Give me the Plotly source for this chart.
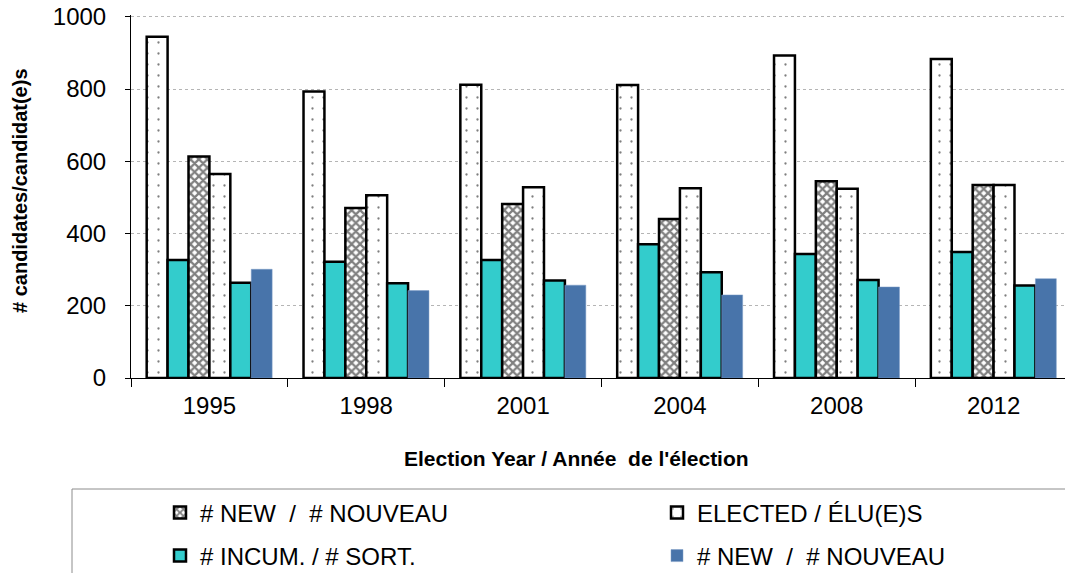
import plotly.graph_objects as go

years = ["1995", "1998", "2001", "2004", "2008", "2012"]

candidates_total = [945, 793, 812, 811, 893, 883]
candidates_incum = [327, 322, 327, 370, 343, 349]
candidates_new = [613, 471, 482, 440, 545, 534]
elected_total = [565, 506, 528, 525, 524, 534]
elected_incum = [264, 262, 270, 293, 271, 256]
elected_new = [301, 242, 257, 230, 252, 275]

y_ticks = [0, 200, 400, 600, 800, 1000]

name_new = "# NEW  /  # NOUVEAU"
name_elected = "ELECTED / ÉLU(E)S"
name_incum = "# INCUM. / # SORT."

TEAL = "#33CCCC"
BLUE = "#4874AA"
FONT = "Arial, Liberation Sans, sans-serif"

fig = go.Figure()

dot_pattern = dict(shape=".", size=11, solidity=0.035, fgcolor="black", bgcolor="white")

fig.add_trace(go.Bar(
    x=years, y=candidates_total, name="CANDIDATES", showlegend=False,
    marker=dict(color="white", pattern=dot_pattern, line=dict(color="black", width=2.5)),
))
fig.add_trace(go.Bar(
    x=years, y=candidates_incum, name=name_incum, showlegend=False,
    marker=dict(color=TEAL, line=dict(color="black", width=2.5)),
))
fig.add_trace(go.Bar(
    x=years, y=candidates_new, name=name_new, legend="legend",
    marker=dict(color="white",
                pattern=dict(shape="x", size=6, solidity=0.6, fgcolor="black", bgcolor="white"),
                line=dict(color="black", width=2.5)),
))
fig.add_trace(go.Bar(
    x=years, y=elected_total, name=name_elected, legend="legend2",
    marker=dict(color="white", pattern=dot_pattern, line=dict(color="black", width=2.5)),
))
fig.add_trace(go.Bar(
    x=years, y=elected_incum, name=name_incum, legend="legend3",
    marker=dict(color=TEAL, line=dict(color="black", width=2.5)),
))
fig.add_trace(go.Bar(
    x=years, y=elected_new, name=name_new, legend="legend4",
    marker=dict(color=BLUE, line=dict(color="#7d9cc6", width=0.5)),
))

# page body has an 8px margin: figure origin sits at screen (8, 8)
OFF = 8
W, H = 1073 - OFF, 573 - OFF
L, R, T, B = 131 - OFF, 1, 7, 573 - 378
pw = W - L - R
ph = H - T - B
YMAX = 1005


def px_x(x):
    return (x - OFF - L) / pw


def px_y(y):
    return (H - B - (y - OFF)) / ph


def legend_at(xpx, ypx):
    return dict(
        orientation="h", itemwidth=30,
        font=dict(family=FONT, size=24, color="black"),
        bgcolor="rgba(0,0,0,0)", borderwidth=0,
        xanchor="left", yanchor="middle", x=px_x(xpx), y=px_y(ypx),
    )


fig.update_layout(
    width=W, height=H,
    margin=dict(l=L, r=R, t=T, b=B, autoexpand=False),
    paper_bgcolor="white", plot_bgcolor="white",
    barmode="group", bargap=0.2, bargroupgap=0,
    font=dict(family=FONT, color="black"),
    legend=legend_at(160, 513),
    legend2=legend_at(657, 513),
    legend3=legend_at(160, 556),
    legend4=legend_at(657, 556),
    xaxis=dict(
        type="category", showline=True, linecolor="black", linewidth=1,
        ticks="outside", tickson="boundaries", ticklen=8, tickcolor="black",
        tickfont=dict(family=FONT, size=24, color="black"),
        ticklabelstandoff=6,
        showgrid=False,
    ),
    yaxis=dict(
        range=[0, YMAX], tickvals=y_ticks,
        showline=True, linecolor="black", linewidth=1,
        ticks="outside", ticklen=5, tickcolor="black",
        tickfont=dict(family=FONT, size=24, color="black"),
        ticklabelstandoff=14, ticklabeloverflow="allow",
        showgrid=True, gridcolor="#b5b5b5", griddash="dot", gridwidth=1,
        zeroline=False,
    ),
    shapes=[dict(
        type="rect", xref="paper", yref="paper",
        x0=px_x(72), x1=px_x(1068), y0=px_y(489), y1=px_y(640),
        line=dict(color="#8c8c8c", width=1), fillcolor="rgba(0,0,0,0)", layer="below",
    )],
    annotations=[
        dict(text="<b>Election Year / Année  de l'élection</b>", xref="paper", yref="paper",
             x=px_x(576), y=px_y(458), showarrow=False, xanchor="center", yanchor="middle",
             font=dict(family=FONT, size=21, color="black")),
        dict(text="<b># candidates/candidat(e)s</b>", xref="paper", yref="paper",
             x=px_x(20), y=px_y(191), showarrow=False, textangle=-90,
             xanchor="center", yanchor="middle",
             font=dict(family=FONT, size=20, color="black")),
    ],
)

fig.write_html("out.html")
